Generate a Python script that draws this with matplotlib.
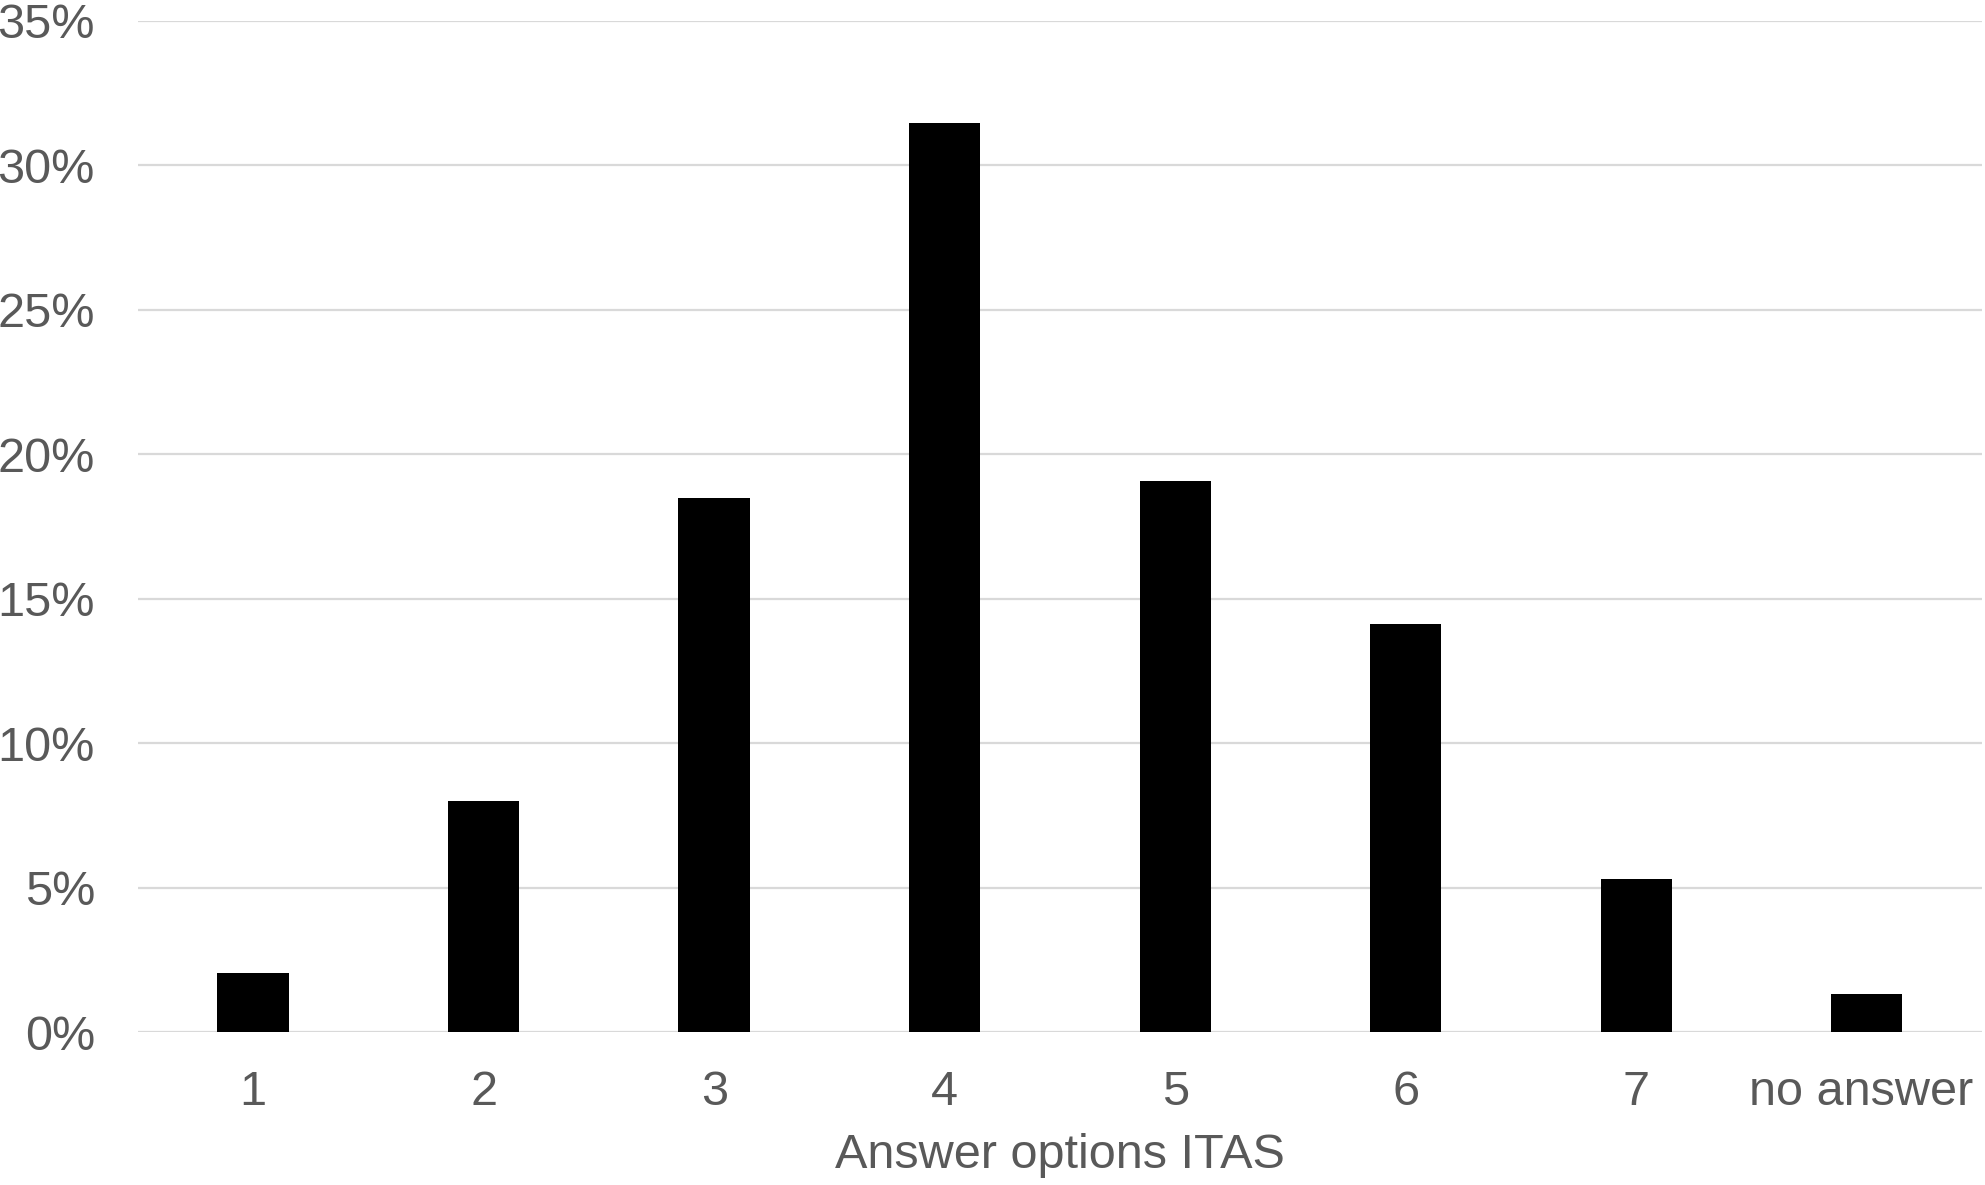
import matplotlib
matplotlib.use("Agg")
import matplotlib.pyplot as plt
from matplotlib.ticker import FuncFormatter, MultipleLocator
from matplotlib.transforms import ScaledTranslation

categories = ["1", "2", "3", "4", "5", "6", "7", "no answer"]
values = [2.05, 7.98, 18.5, 31.47, 19.07, 14.12, 5.31, 1.32]

plt.rcParams['font.family'] = ['Liberation Sans', 'DejaVu Sans']

fig = plt.figure(figsize=(19.85, 11.85), dpi=100)
ax = fig.add_axes([0.0695, 0.1291, 0.9290, 0.8532])

x = list(range(len(categories)))
ax.bar(x, values, width=0.31, color="black", zorder=3)
ax.set_xlim(-0.5, len(categories) - 0.5)
ax.set_ylim(0, 35)
ax.yaxis.set_major_locator(MultipleLocator(5))
ax.yaxis.set_major_formatter(FuncFormatter(lambda v, p: f"{int(round(v))}%"))
ax.grid(axis="y", color="#d9d9d9", linewidth=1.6, zorder=0)
for s in ax.spines.values():
    s.set_visible(False)
ax.set_xticks(x)
ax.set_xticklabels(categories)
ax.tick_params(axis="both", length=0, labelsize=35, colors="#595959")
ax.tick_params(axis="y", pad=31)
ax.tick_params(axis="x", pad=27.5)
ax.set_xlabel("Answer options ITAS", fontsize=35, color="#595959", labelpad=13)

last = ax.get_xticklabels()[-1]
last.set_transform(last.get_transform() + ScaledTranslation(-0.06, 0, fig.dpi_scale_trans))

fig.savefig("out.png", dpi=100, facecolor="white")
